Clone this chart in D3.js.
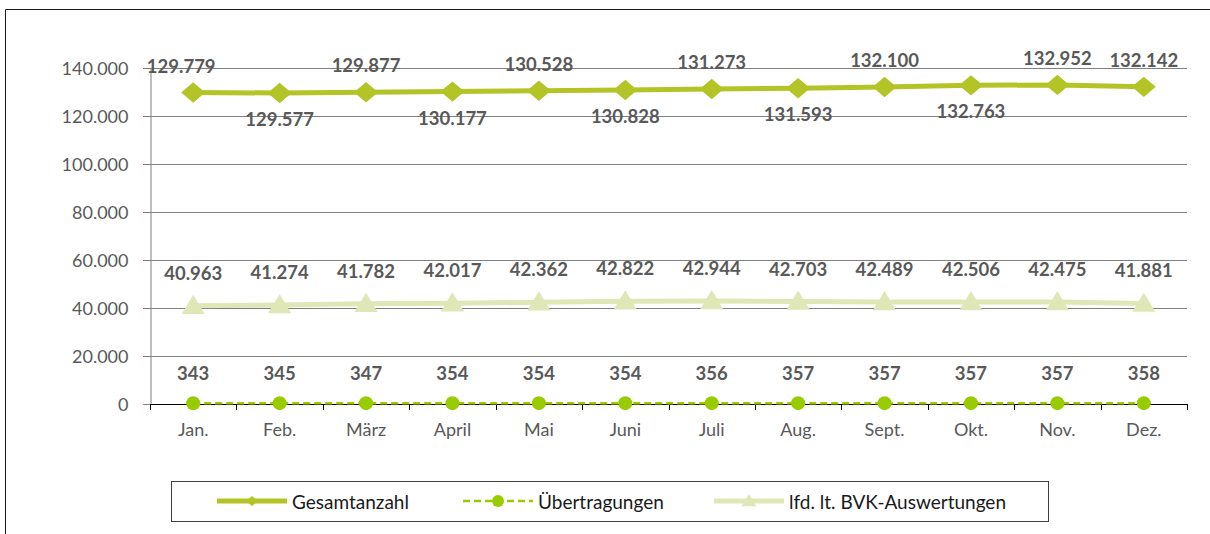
<!DOCTYPE html>
<html><head><meta charset="utf-8">
<script src="https://cdn.jsdelivr.net/npm/d3@7"></script>
<style>body{margin:0;background:#fff}svg{display:block}text{font-family:Lato,"Open Sans",sans-serif}</style>
</head><body><svg id="c" width="1210" height="534"></svg>
<script>
const months = ["Jan.","Feb.","März","April","Mai","Juni","Juli","Aug.","Sept.","Okt.","Nov.","Dez."];
const gesamt = [129779,129577,129877,130177,130528,130828,131273,131593,132100,132763,132952,132142];
const uebertragungen = [343,345,347,354,354,354,356,357,357,357,357,358];
const bvk = [40963,41274,41782,42017,42362,42822,42944,42703,42489,42506,42475,41881];
const gesamtLabelSide = ["above","below","above","below","above","below","above","below","above","below","above","above"];
const yTicks = [0,20000,40000,60000,80000,100000,120000,140000];
const seriesNames = ["Gesamtanzahl","Übertragungen","lfd. lt. BVK-Auswertungen"];

const svg = d3.select("#c");
const fmt = v => d3.format(",")(v).replace(/,/g,".");
const pL=150,pR=1187,pT=68,pB=404;
const x = d3.scaleBand().domain(months).range([pL,pR]);
const y = d3.scaleLinear().domain([0,140000]).range([pB,pT]);
const cx = m => x(m)+x.bandwidth()/2;
const labelColor="#595959";

// outer frame
svg.append("path").attr("d","M5.5,534 L5.5,9.5 L1210,9.5").attr("fill","none").attr("stroke","#1a1a1a").attr("stroke-width",1);

// gridlines
svg.append("g").selectAll("line").data(yTicks.filter(d=>d>0)).join("line")
  .attr("x1",pL-7).attr("x2",pR).attr("y1",d=>Math.round(y(d))+0.5).attr("y2",d=>Math.round(y(d))+0.5)
  .attr("stroke","#7f7f7f").attr("stroke-width",1);
// y axis
const ya = svg.append("g").attr("transform",`translate(${pL+0.5},0)`)
  .call(d3.axisLeft(y).tickValues(yTicks).tickFormat(fmt).tickSize(7).tickPadding(15));
ya.select(".domain").attr("stroke","#7f7f7f");
ya.selectAll(".tick line").attr("stroke","#7f7f7f");
ya.selectAll("text").attr("font-size",18).attr("fill",labelColor).attr("dy","0.35em");
// x axis
const xa = svg.append("g").attr("transform",`translate(0,${pB+0.5})`)
  .call(d3.axisBottom(x).tickSize(0).tickPadding(19));
xa.select(".domain").attr("stroke","#000").attr("d",`M${pL},0H${pR}`);
xa.selectAll("text").attr("font-size",18).attr("fill",labelColor);
svg.append("g").selectAll("line").data(months.concat(["_end"])).join("line")
  .attr("x1",(d,i)=>Math.round(pL+i*x.bandwidth())+0.5).attr("x2",(d,i)=>Math.round(pL+i*x.bandwidth())+0.5)
  .attr("y1",pB).attr("y2",pB+6).attr("stroke","#000");

const cG="#b3c427", cU="#99cc00", cB="#dfe7b7";
const line = d3.line().x((d,i)=>cx(months[i])).y(d=>y(d));
const diamond = (s)=>`M0,${-s*0.85}L${s},0L0,${s*0.85}L${-s},0Z`;
const tri = (s)=>`M0,${-s}L${s*1.05},${s*0.75}L${-s*1.05},${s*0.75}Z`;

// BVK
svg.append("path").attr("d",line(bvk)).attr("fill","none").attr("stroke",cB).attr("stroke-width",5);
svg.append("g").selectAll("path").data(bvk).join("path")
  .attr("transform",(d,i)=>`translate(${cx(months[i])},${y(d)})`).attr("d",tri(11)).attr("fill",cB);
// Gesamt
svg.append("path").attr("d",line(gesamt)).attr("fill","none").attr("stroke",cG).attr("stroke-width",5);
svg.append("g").selectAll("path").data(gesamt).join("path")
  .attr("transform",(d,i)=>`translate(${cx(months[i])},${y(d)})`).attr("d",diamond(12)).attr("fill",cG);
// Uebertragungen
svg.append("path").attr("d",line(uebertragungen)).attr("fill","none").attr("stroke",cU).attr("stroke-width",2.5).attr("stroke-dasharray","7,4");
svg.append("g").selectAll("circle").data(uebertragungen).join("circle")
  .attr("cx",(d,i)=>cx(months[i])).attr("cy",d=>y(d)).attr("r",7).attr("fill",cU);

// labels
const lbl = (data,dyf,dxf)=>svg.append("g").selectAll("text").data(data).join("text")
  .attr("x",(d,i)=>cx(months[i])+(dxf?dxf(i):0)).attr("y",(d,i)=>y(d)+dyf(i)).attr("text-anchor","middle")
  .attr("dominant-baseline","central").attr("font-size",18.5).attr("font-weight","bold").attr("fill",labelColor).text(fmt);
lbl(gesamt,i=>gesamtLabelSide[i]==="above"?-27:26,i=>i===0?-12:0);
lbl(bvk,i=>-33);
lbl(uebertragungen,i=>-30);

// legend
const lg = svg.append("g");
lg.append("rect").attr("x",171.5).attr("y",481.5).attr("width",877).attr("height",40).attr("fill","#fff").attr("stroke","#404040");
const ly=501;
const items=[{x:217,c:cG,t:"d"},{x:463,c:cU,t:"c"},{x:714,c:cB,t:"t"}];
items.forEach((it,i)=>{
  const g=lg.append("g");
  const l=g.append("line").attr("x1",it.x).attr("x2",it.x+70).attr("y1",ly).attr("y2",ly).attr("stroke",it.c).attr("stroke-width",it.t==="c"?2.5:5);
  if(it.t==="c") l.attr("stroke-dasharray","7,4");
  const m=g.append("path").attr("transform",`translate(${it.x+35},${ly})`).attr("fill",it.c);
  if(it.t==="d") m.attr("d",diamond(6));
  else if(it.t==="t") m.attr("d",tri(7));
  else g.append("circle").attr("cx",it.x+35).attr("cy",ly).attr("r",6).attr("fill",it.c);
  g.append("text").attr("x",it.x+75).attr("y",ly).attr("dominant-baseline","central").attr("font-size",19).attr("fill","#1a1a1a").text(seriesNames[i]);
});
</script></body></html>
